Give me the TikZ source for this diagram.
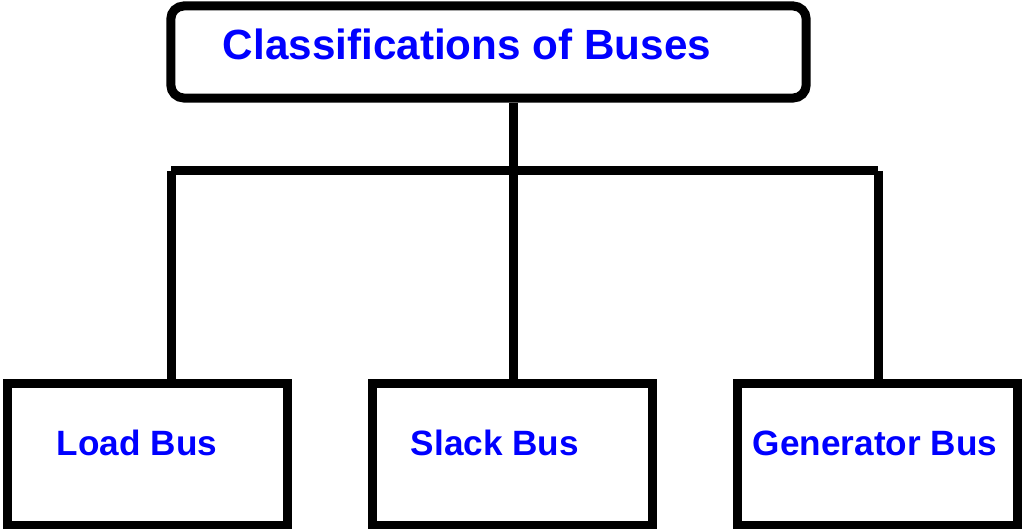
\documentclass[tikz,border=0pt]{standalone}
\usepackage{fontspec}
\setmainfont{Liberation Sans}
\definecolor{Tblue}{RGB}{0,0,255}

\tikzset{
  topbox/.style={draw,line width=6.5pt,rounded corners=0.13in,minimum width=6.35in,minimum height=0.92in,inner sep=0pt},
  busbox/.style={draw,line width=6.5pt,minimum width=2.8in,minimum height=1.41in,inner sep=0pt},
  toptext/.style={text=Tblue,font=\bfseries\fontsize{30.5}{34}\selectfont,inner sep=0pt},
  bustext/.style={text=Tblue,font=\bfseries\fontsize{25.4}{28}\selectfont,inner sep=0pt},
  wire/.style={line width=6.5pt},
}

\begin{document}
\begin{tikzpicture}[x=0.01in,y=-0.01in]
\path[use as bounding box] (0,0) rectangle (1024,529);
% top box
\node[topbox] (class) at (488.5,52) {};
\node[toptext] (classtext) at (467,44) {Classifications of Buses};
% bus boxes
\node[busbox] (load) at (147.5,454.5) {};
\node[busbox] (slack) at (512.5,454.5) {};
\node[busbox] (gen) at (877.5,454.5) {};
\node[bustext] (loadtext) at (137,443) {Load Bus};
\node[bustext] (slacktext) at (495,443) {Slack Bus};
\node[bustext] (gentext) at (875,443) {Generator Bus};
% branch points
\coordinate (mid) at (513,171);
\coordinate (lft) at (171,171);
\coordinate (rgt) at (878,171);
\draw[wire] (class.south -| mid) -- (mid);
\draw[wire] (lft) -- (rgt);
\draw[wire] (lft) -- (lft |- load.north);
\draw[wire] (mid) -- (mid |- slack.north);
\draw[wire] (rgt) -- (rgt |- gen.north);
\end{tikzpicture}
\end{document}
